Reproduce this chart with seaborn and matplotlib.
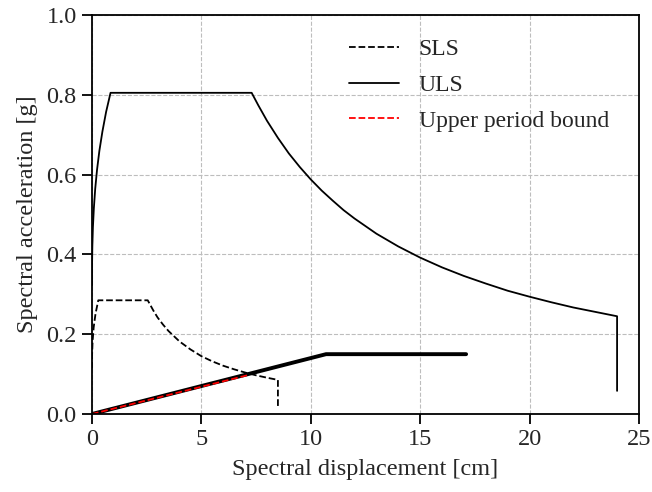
import numpy as np
import pandas as pd
import matplotlib
matplotlib.use("Agg")
import matplotlib.pyplot as plt
import seaborn as sns

# ULS spectrum (Sd [cm], Sa [g])
uls_sd = [0.0, 0.004, 0.018, 0.044, 0.087, 0.149, 0.233, 0.341, 0.479, 0.647, 0.85,
          7.3, 7.6, 8.0, 8.5, 9.0, 9.5, 10.0, 10.5, 11.0, 11.5, 12.0, 13.0, 14.0, 15.0,
          16.0, 17.0, 18.0, 19.0, 20.0, 21.0, 22.0, 23.0, 24.0, 24.0]
uls_sa = [0.322, 0.37, 0.419, 0.467, 0.515, 0.564, 0.612, 0.66, 0.708, 0.757, 0.805,
          0.805, 0.774, 0.735, 0.692, 0.653, 0.619, 0.588, 0.560, 0.535, 0.511, 0.49, 0.452,
          0.42, 0.392, 0.3675, 0.346, 0.327, 0.309, 0.294, 0.28, 0.267, 0.256, 0.245, 0.058]

# SLS spectrum
sls_sd = [0.0, 0.006, 0.030, 0.079, 0.163, 0.29,
          2.55, 2.8, 3.0, 3.25, 3.5, 4.0, 4.5, 5.0, 5.5, 6.0, 6.5, 7.0, 7.5, 8.0, 8.5, 8.5]
sls_sa = [0.114, 0.148, 0.182, 0.217, 0.251, 0.285,
          0.285, 0.260, 0.242, 0.224, 0.208, 0.182, 0.162, 0.145, 0.132, 0.121, 0.112,
          0.104, 0.097, 0.091, 0.0855, 0.02]

# Capacity (bilinear) curve
cap_sd = [0.0, 10.7, 17.1]
cap_sa = [0.0, 0.15, 0.15]

# Upper period bound
upb_sd = [0.0, 7.1]
upb_sa = [0.0, 0.097]

sns.set_style("ticks")
plt.rcParams['font.family'] = ['Liberation Serif', 'DejaVu Serif']

fig = plt.figure(figsize=(6.52, 4.92), dpi=100)
ax = fig.add_axes([0.141, 0.1585, 0.839, 0.811])

df_uls = pd.DataFrame({"Sd": uls_sd, "Sa": uls_sa})
df_sls = pd.DataFrame({"Sd": sls_sd, "Sa": sls_sa})
df_cap = pd.DataFrame({"Sd": cap_sd, "Sa": cap_sa})
df_upb = pd.DataFrame({"Sd": upb_sd, "Sa": upb_sa})

sns.lineplot(data=df_sls, x="Sd", y="Sa", sort=False, estimator=None, ax=ax,
             color="black", linestyle="--", linewidth=1.3, label="SLS")
sns.lineplot(data=df_uls, x="Sd", y="Sa", sort=False, estimator=None, ax=ax,
             color="black", linestyle="-", linewidth=1.3, label="ULS")
sns.lineplot(data=df_cap, x="Sd", y="Sa", sort=False, estimator=None, ax=ax,
             color="black", linestyle="-", linewidth=2.8, label="_nolegend_")
sns.lineplot(data=df_upb, x="Sd", y="Sa", sort=False, estimator=None, ax=ax,
             color="red", linestyle="--", linewidth=1.3, label="Upper period bound")

ax.set_xlim(0, 25)
ax.set_ylim(0, 1.0)
ax.set_xticks([0, 5, 10, 15, 20, 25])
ax.set_yticks([0.0, 0.2, 0.4, 0.6, 0.8, 1.0])
ax.set_yticklabels(["0.0", "0.2", "0.4", "0.6", "0.8", "1.0"])
ax.grid(True, linestyle="--", color="#bdbdbd", linewidth=0.8)
ax.set_xlabel("Spectral displacement [cm]", fontsize=17.5, labelpad=6)
ax.set_ylabel("Spectral acceleration [g]", fontsize=17.5, labelpad=6)
ax.tick_params(axis="both", labelsize=17.5, direction="out", length=7, width=1.3, color="black", pad=4)
for s in ax.spines.values():
    s.set_color("black")
    s.set_linewidth(1.3)

ax.legend(loc="upper left", frameon=False, fontsize=17, handlelength=2.1,
          handletextpad=0.85, labelspacing=0.6, borderaxespad=0, borderpad=0.4,
          bbox_to_anchor=(0.453, 0.964))

fig.savefig("out.png", dpi=100)
